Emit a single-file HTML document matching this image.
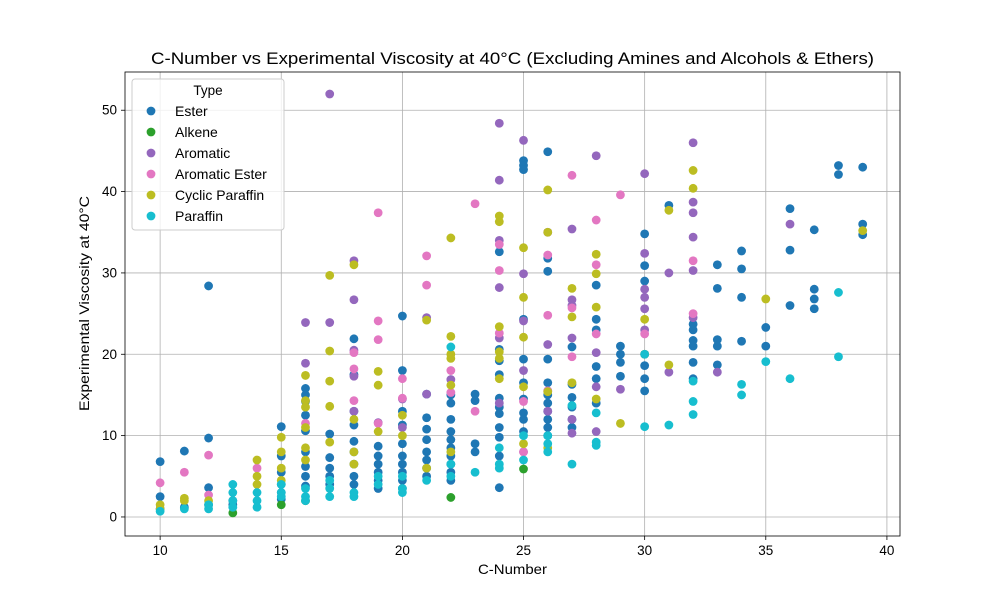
<!DOCTYPE html>
<html><head><meta charset="utf-8"><style>body{margin:0;background:#fff}svg{display:block;font-family:"Liberation Sans",sans-serif}</style></head>
<body>
<svg id="chart" width="1000" height="600" xmlns="http://www.w3.org/2000/svg"></svg>
<script>
const seriesNames=["Ester","Alkene","Aromatic","Aromatic Ester","Cyclic Paraffin","Paraffin"];
const seriesColors=["#1f77b4","#2ca02c","#9467bd","#e377c2","#bcbd22","#17becf"];
const ester={10:[6.8,2.5,1.0],11:[8.1,1.2],12:[28.4,9.7,3.6,1.5],13:[2.0,1.5],15:[11.1,7.5,5.5,4.0,3.0,2.2],16:[15.8,15.0,14.2,12.5,10.6,8.0,6.2,5.0,3.8],17:[10.2,7.3,6.0,5.0,4.0],18:[21.9,17.5,13.0,11.3,9.3,8.0,6.5,5.0,4.0],19:[8.7,7.5,6.5,5.5,4.5,3.5],20:[24.7,18.0,13.0,11.3,9.0,7.5,6.5,5.5,4.5,3.5],21:[15.1,12.2,10.8,9.5,8.0,7.0,6.0,5.0],22:[15.0,14.0,12.0,10.5,9.5,8.5,7.5,6.5,5.5,4.5],23:[15.1,14.3,9.0,8.0],24:[32.6,20.6,19.2,17.5,14.6,13.5,12.7,11.0,9.8,7.5,3.6],25:[43.8,43.2,42.7,24.3,19.4,16.5,14.5,12.8,12.0,10.5],26:[44.9,31.8,30.2,19.4,16.5,15.0,14.0,13.0,12.0,11.0,10.0],27:[20.9,16.3,14.7,13.5,12.0,11.0],28:[28.5,24.3,23.0,18.5,17.0,14.0],29:[21.0,20.0,19.0,17.3],30:[34.8,30.9,29.0,20.0,18.6,17.0,15.5],31:[38.3],32:[23.7,23.0,21.7,21.0,19.0,17.0],33:[31.0,28.1,21.8,21.0,18.7],34:[32.7,30.5,27.0,21.6],35:[23.3,21.0],36:[37.9,32.8,26.0],37:[35.3,28.0,26.8,25.6],38:[43.2,42.1],39:[43.0,36.0,34.7]};
const alkene={13:[0.5],15:[1.5],16:[2.0],22:[2.4],25:[5.9]};
const aromatic={16:[23.9,18.9],17:[52.0,23.9],18:[31.5,26.7,20.5,17.3,13.0],19:[11.6],20:[14.5,11.0],21:[24.5,15.1],22:[16.9],24:[48.4,41.4,34.0,28.2,22.0,14.0],25:[46.3,29.9,24.1,18.0,8.0],26:[35.0,21.2,15.5,13.0],27:[35.4,26.7,26.0,22.0,12.0,10.3],28:[44.4,20.2,16.0,10.5],29:[15.7],30:[42.2,32.4,28.0,27.0,25.6,23.0],31:[30.0,17.8],32:[46.0,38.7,37.4,34.4,30.3,24.5],33:[17.8],36:[36.0]};
const aromaticEster={10:[4.2],11:[5.5],12:[7.6,2.7],14:[6.0],16:[11.5],18:[18.2,14.3,20.2],19:[37.4,24.1,21.8,11.5],20:[17.0,14.6],21:[32.1,28.5],22:[18.0,15.3],23:[38.5,13.0],24:[33.5,30.3,22.6],25:[14.2,8.0],26:[32.2,24.8,15.5],27:[42.0,25.7,19.7],28:[36.5,31.0,22.5],29:[39.6],30:[22.5],32:[31.5,25.0]};
const cyclicParaffin={10:[1.5,1.0],11:[2.3,2.0],12:[2.0],14:[7.0,5.0,4.0],15:[9.8,8.0,6.0,4.5],16:[17.4,14.3,13.5,11.0,8.5,7.0],17:[29.7,20.4,16.7,13.6,9.2],18:[31.0,12.0,8.0,6.5],19:[17.9,16.2,10.5],20:[12.5,10.0],21:[24.2,6.0],22:[34.3,22.2,20.0,19.5,16.2,8.0],24:[37.0,36.3,23.4,20.3,19.5,17.0],25:[33.1,27.0,22.1,16.0,9.0],26:[40.2,35.0,15.4,8.5],27:[28.1,24.6,16.5],28:[32.3,29.9,25.8,14.5],29:[11.5],30:[24.3,20.0],31:[37.7,18.7],32:[42.6,40.4],35:[26.8],39:[35.2]};
const paraffin={10:[0.7],11:[1.0],12:[1.5,1.0],13:[4.0,3.0,2.0,1.2],14:[3.0,2.0,1.2],15:[4.0,3.0,2.5],16:[3.5,2.5,2.0],17:[4.5,3.5,2.5],18:[3.0,2.5],19:[5.0,4.0],20:[5.0,3.5,3.0],21:[4.5],22:[20.9,6.5,5.0],23:[5.5],24:[8.5,6.5,6.0],25:[10.0,7.0],26:[10.0,9.0,8.0],27:[13.7,6.5],28:[12.8,9.2,8.8],30:[20.0,11.1],31:[11.3],32:[16.7,14.2,12.6],34:[16.3,15.0],35:[19.1],36:[17.0],38:[27.6,19.7]};
const xTicks=[10,15,20,25,30,35,40];
const yTicks=[0,10,20,30,40,50];

const NS="http://www.w3.org/2000/svg";
const svg=document.getElementById('chart');
const L=125,R=900,T=72,B=536;
const xMin=8.55,xMax=40.54,yMin=-2.34,yMax=54.7;
const sx=v=>L+(v-xMin)/(xMax-xMin)*(R-L);
const sy=v=>B-(v-yMin)/(yMax-yMin)*(B-T);
function mk(tag,at,parent){const e=document.createElementNS(NS,tag);for(const k in at)e.setAttribute(k,at[k]);(parent||svg).appendChild(e);return e;}
xTicks.forEach(t=>{const l=mk('line',{x1:sx(t),x2:sx(t),y1:T,y2:B,stroke:'#b0b0b0','stroke-width':0.8});


const k=mk('line',{x1:sx(t),x2:sx(t),y1:B,y2:B+4,stroke:'#000','stroke-width':0.8});


const tx=mk('text',{x:sx(t),y:B+19,'text-anchor':'middle','font-size':13.5});tx.textContent=t;

});
yTicks.forEach(t=>{const l=mk('line',{x1:L,x2:R,y1:sy(t),y2:sy(t),stroke:'#b0b0b0','stroke-width':0.8});


const k=mk('line',{x1:L-4,x2:L,y1:sy(t),y2:sy(t),stroke:'#000','stroke-width':0.8});


const tx=mk('text',{x:L-8,y:sy(t)+4.5,'text-anchor':'end','font-size':13.5});tx.textContent=t;

});
const allSeries=[ester,alkene,aromatic,aromaticEster,cyclicParaffin,paraffin];
allSeries.forEach((s,i)=>{const g=mk('g',{fill:seriesColors[i]});


for(const c in s){s[c].forEach(v=>{const p=mk('circle',{cx:sx(+c),cy:sy(v),r:4.4},g);

});}});
const fr=mk('rect',{x:L,y:T,width:R-L,height:B-T,fill:'none',stroke:'#000','stroke-width':0.8});


const ti=mk('text',{x:151,y:64,'font-size':17,textLength:723,lengthAdjust:'spacingAndGlyphs'});ti.textContent='C-Number vs Experimental Viscosity at 40°C (Excluding Amines and Alcohols & Ethers)';


const xl=mk('text',{x:478,y:574,'font-size':14,textLength:69,lengthAdjust:'spacingAndGlyphs'});xl.textContent='C-Number';


const yl=mk('text',{x:0,y:0,'font-size':14,textLength:215,lengthAdjust:'spacingAndGlyphs',transform:`translate(89,411) rotate(-90)`});yl.textContent='Experimental Viscosity at 40°C';


const lg=mk('g',{});


mk('rect',{x:132,y:79,width:152,height:151,rx:3,fill:'#fff','fill-opacity':0.8,stroke:'#ccc'},lg);
const lt=mk('text',{x:208,y:95,'text-anchor':'middle','font-size':13.5},lg);lt.textContent='Type';


seriesNames.forEach((n,i)=>{const y=111+i*21;
const e=mk('g',{},lg);


mk('circle',{cx:151,cy:y,r:4.4,fill:seriesColors[i]},e);
const t=mk('text',{x:175,y:y+5,'font-size':14},e);t.textContent=n;});
</script>
</body></html>
